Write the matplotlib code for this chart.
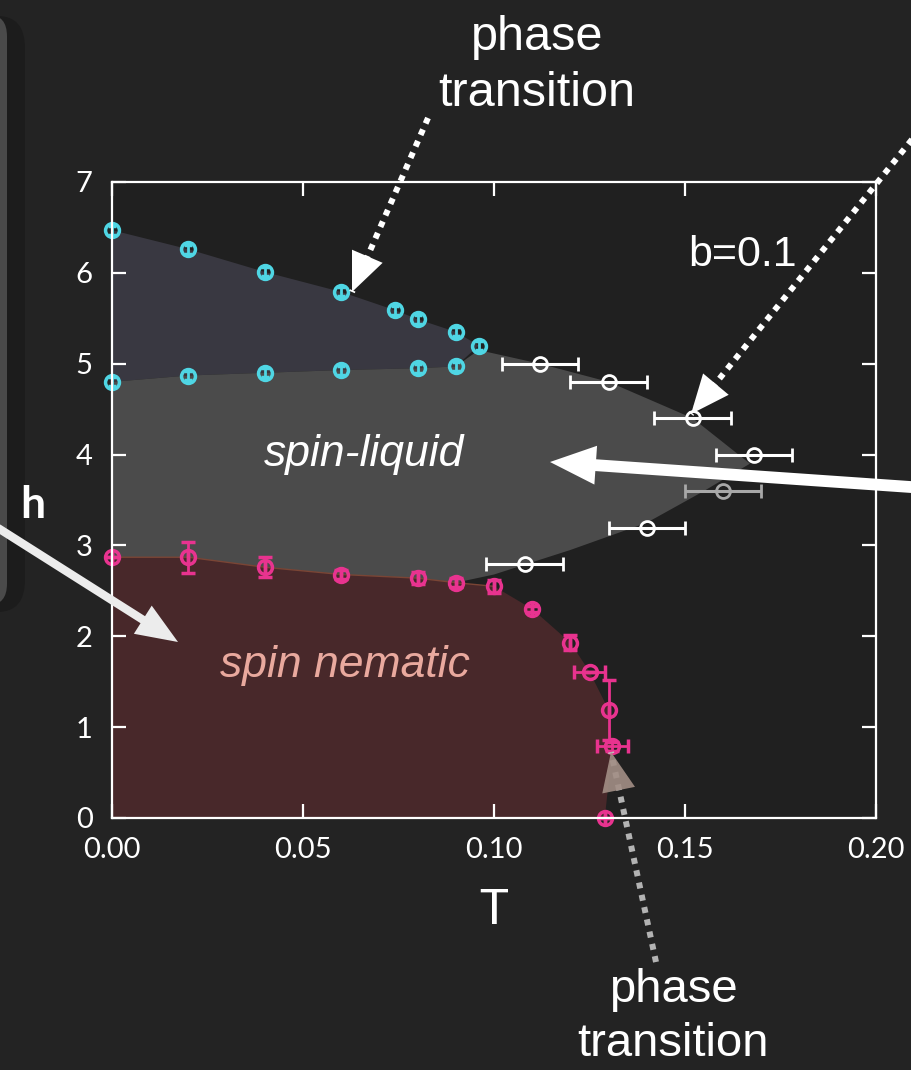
import matplotlib
matplotlib.use("Agg")
import matplotlib.pyplot as plt
from matplotlib.patches import FancyArrowPatch, FancyBboxPatch, ArrowStyle
from matplotlib.lines import Line2D

# phase boundary data (T, h)
cyan_upper_T = [0.0, 0.02, 0.04, 0.06, 0.074, 0.08, 0.09, 0.096]
cyan_upper_h = [6.47, 6.26, 6.01, 5.79, 5.59, 5.49, 5.35, 5.2]
cyan_lower_T = [0.0, 0.02, 0.04, 0.06, 0.08, 0.09]
cyan_lower_h = [4.8, 4.87, 4.9, 4.93, 4.95, 4.97]

white_T = [0.112, 0.13, 0.152, 0.168, 0.14, 0.108]
white_h = [5.0, 4.8, 4.4, 4.0, 3.19, 2.8]
white_xerr = 0.01
gray_T = [0.16]
gray_h = [3.6]

magenta_T = [0.0, 0.02, 0.04, 0.06, 0.08, 0.09, 0.10, 0.11, 0.12, 0.125, 0.13, 0.131, 0.129]
magenta_h = [2.87, 2.87, 2.76, 2.68, 2.64, 2.59, 2.55, 2.3, 1.93, 1.61, 1.19, 0.79, 0.0]
magenta_yerr = [0, 0.17, 0.11, 0.05, 0.07, 0.05, 0.07, 0.03, 0.08, 0, 0.33, 0.05, 0]
magenta_xerr = [0, 0, 0, 0, 0, 0, 0, 0, 0, 0.004, 0, 0.004, 0]

# outline of the spin-liquid region
liquid_T = [0.0, 0.02, 0.04, 0.06, 0.08, 0.09, 0.096, 0.112, 0.13, 0.152, 0.167,
            0.155, 0.14, 0.12, 0.1, 0.09, 0.08, 0.06, 0.04, 0.02, 0.0]
liquid_h = [4.8, 4.87, 4.9, 4.93, 4.95, 4.97, 5.15, 5.0, 4.8, 4.4, 3.9,
            3.6, 3.25, 2.95, 2.68, 2.59, 2.64, 2.68, 2.76, 2.85, 2.87]

x_ticks = [0.0, 0.05, 0.10, 0.15, 0.20]
x_labels = ["0.00", "0.05", "0.10", "0.15", "0.20"]
y_ticks = [0, 1, 2, 3, 4, 5, 6, 7]

W, H = 911, 1070
BG = "#232323"


def fpx(x, y):
    return (x / W, 1 - y / H)


fig = plt.figure(figsize=(W / 100, H / 100), dpi=100)
fig.patch.set_facecolor(BG)

# rounded box at the left edge
fig.patches.append(FancyBboxPatch(fpx(-60, 612), 85 / W, 596 / H,
                                  boxstyle="round,pad=0,rounding_size=0.03",
                                  transform=fig.transFigure, fc="#1c1c1c", ec="none", zorder=0))
fig.patches.append(FancyBboxPatch(fpx(-60, 605), 67 / W, 590 / H,
                                  boxstyle="round,pad=0,rounding_size=0.02",
                                  transform=fig.transFigure, fc="#4a4a4a", ec="none", zorder=0))

ax = fig.add_axes([112 / W, 1 - 818 / H, 764 / W, 636 / H])
ax.set_facecolor("#202020")
ax.set_xlim(0, 0.2)
ax.set_ylim(0, 7)

# phase regions
ax.fill(cyan_upper_T + cyan_lower_T[::-1], cyan_upper_h + cyan_lower_h[::-1],
        color="#393841", lw=0, zorder=1)
ax.fill(liquid_T, liquid_h, color="#4b4b4b", lw=0, zorder=1)
ax.fill([0.0] + magenta_T, [0.0] + magenta_h, color="#48282a", lw=0, zorder=1)
ax.plot(magenta_T[:7], magenta_h[:7], color="#7a4535", lw=1, zorder=1.5)

# data points
ax.errorbar(cyan_upper_T + cyan_lower_T, cyan_upper_h + cyan_lower_h, yerr=0.05,
            fmt="o", mfc="none", mec="#4fd6e4", ecolor="#4fd6e4", ms=10, mew=2.5,
            elinewidth=2, capsize=3, zorder=4, clip_on=False)
ax.errorbar(white_T, white_h, xerr=white_xerr, fmt="o", mfc="none", mec="white",
            ecolor="white", ms=10, mew=2, elinewidth=2.2, capsize=5, capthick=2.2, zorder=4)
ax.errorbar(gray_T, gray_h, xerr=white_xerr, fmt="o", mfc="none", mec="#a8a8a8",
            ecolor="#a8a8a8", ms=10, mew=2, elinewidth=2.2, capsize=5, capthick=2.2, zorder=4)
ax.errorbar(magenta_T, magenta_h, yerr=magenta_yerr, xerr=magenta_xerr, fmt="o",
            mfc="none", mec="#e8338f", ecolor="#e8338f", ms=10, mew=2.5,
            elinewidth=2, capsize=5, capthick=2.2, zorder=4, clip_on=False)

# axes styling
for s in ax.spines.values():
    s.set_color("white")
    s.set_linewidth(1.6)
    s.set_zorder(5)
ax.set_xticks(x_ticks)
ax.set_xticklabels(x_labels)
ax.set_yticks(y_ticks)
ax.tick_params(direction="in", length=10, width=1.6, colors="white",
               top=True, right=True, labelsize=21, pad=14)
for lab in ax.get_xticklabels() + ax.get_yticklabels():
    lab.set_fontfamily("Lato")
ax.set_xlabel("T", fontsize=35, color="white", family="Lato", labelpad=18)

# region labels
ax.text(0.066, 4.0, "spin-liquid", fontsize=32, style="italic", color="white",
        family="Liberation Sans", ha="center", va="center", zorder=6)
ax.text(0.061, 1.68, "spin nematic", fontsize=32, style="italic", color="#e9a99e",
        family="Liberation Sans", ha="center", va="center", zorder=6)
ax.text(0.165, 6.2, "b=0.1", fontsize=31, color="white",
        family="Liberation Sans", ha="center", va="center", zorder=6)

# figure annotations
fig.text(*fpx(537, 37), "phase", fontsize=35, color="white", family="Liberation Sans",
         ha="center", va="center")
fig.text(*fpx(537, 93), "transition", fontsize=35, color="white", family="Liberation Sans",
         ha="center", va="center")
fig.text(*fpx(673, 990), "phase", fontsize=34, color="white", family="Liberation Sans",
         ha="center", va="center")
fig.text(*fpx(673, 1044), "transition", fontsize=34, color="white", family="Liberation Sans",
         ha="center", va="center")
fig.text(*fpx(33, 505), "h", fontsize=32, color="white", family="Lato", weight="bold",
         ha="center", va="center")


def dotted_arrow(p0, p1, head_from, color="white", alpha=1.0, head_color=None):
    fig.add_artist(Line2D([fpx(*p0)[0], fpx(*p1)[0]], [fpx(*p0)[1], fpx(*p1)[1]],
                          transform=fig.transFigure, color=color, lw=4.3,
                          linestyle=(0, (1, 1.1)), dash_capstyle="butt", alpha=alpha, zorder=7))
    fig.add_artist(FancyArrowPatch(fpx(*head_from), fpx(*p1), transform=fig.transFigure,
                                   arrowstyle=ArrowStyle("-|>", head_length=1.4, head_width=0.6),
                                   mutation_scale=20, color=head_color or color, lw=0,
                                   alpha=alpha, zorder=7, shrinkA=0, shrinkB=0))


dotted_arrow((428, 118), (352, 292), (364, 264))
dotted_arrow((918, 132), (691, 414), (711, 390))
dotted_arrow((656, 962), (611, 752), (617, 782), color="#c4c4c4", alpha=0.9,
             head_color="#a38f86")

# solid arrows
fig.add_artist(FancyArrowPatch(fpx(925, 488), fpx(550, 462), transform=fig.transFigure,
                               arrowstyle=ArrowStyle("simple", head_length=33, head_width=28,
                                                     tail_width=8.5),
                               mutation_scale=1, color="white", lw=0, zorder=7,
                               shrinkA=0, shrinkB=0))
fig.add_artist(FancyArrowPatch(fpx(-2, 528), fpx(178, 642), transform=fig.transFigure,
                               arrowstyle=ArrowStyle("simple", head_length=30, head_width=24,
                                                     tail_width=6),
                               mutation_scale=1, color="#ececec", lw=0, zorder=7,
                               shrinkA=0, shrinkB=0))

fig.savefig("out.png", dpi=100, facecolor=BG)
